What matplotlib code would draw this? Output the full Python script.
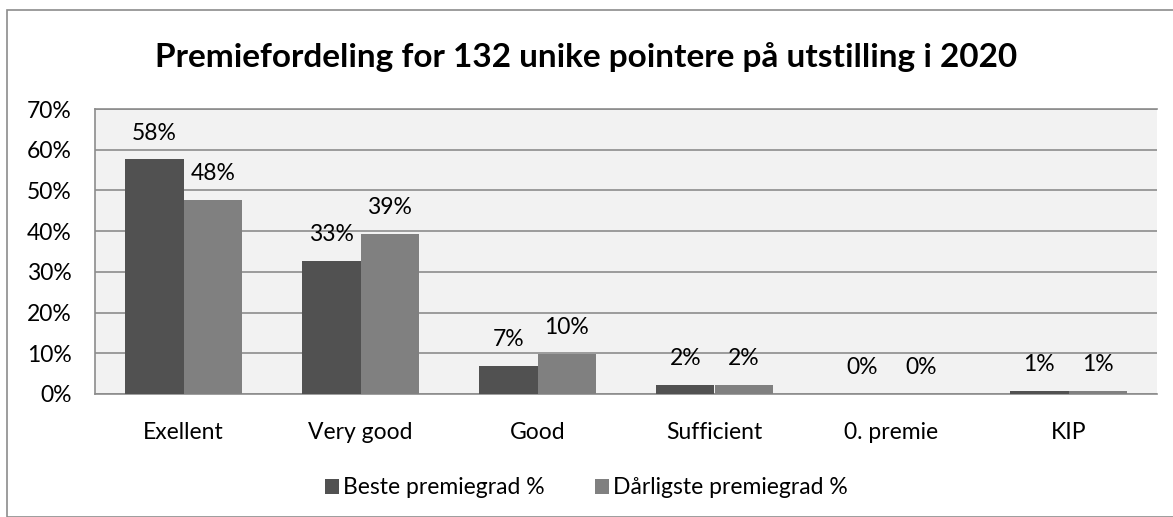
import matplotlib

matplotlib.use("Agg")
import matplotlib.pyplot as plt
import numpy as np
from matplotlib.patches import Rectangle

categories = ["Exellent", "Very good", "Good", "Sufficient", "0. premie", "KIP"]
beste = [57.6, 32.6, 6.8, 2.3, 0.0, 0.76]
darligste = [47.7, 39.4, 9.8, 2.3, 0.0, 0.76]
series_names = ["Beste premiegrad %", "Dårligste premiegrad %"]
yticks = [0, 10, 20, 30, 40, 50, 60, 70]

plt.rcParams["font.family"] = ["Lato", "DejaVu Sans"]
FS = 16.5

W, H = 1173, 517
fig = plt.figure(figsize=(W / 100, H / 100), dpi=100)
fig.patch.set_facecolor("white")

# outer chart frame
fig.patches.append(Rectangle((7 / W, 0), 1.2, (H - 10) / H, transform=fig.transFigure,
                             fill=False, edgecolor="#8c8c8c", linewidth=1.2))

left, right, top, bottom = 95, 1157, 109, 394
ax = fig.add_axes([left / W, 1 - bottom / H, (right - left) / W, (bottom - top) / H])
ax.set_facecolor("#f2f2f2")

x = np.arange(len(categories))
w = 0.33
b1 = ax.bar(x - w / 2, beste, width=w, color="#515151", label=series_names[0], zorder=3)
b2 = ax.bar(x + w / 2, darligste, width=w, color="#808080", label=series_names[1], zorder=3)

for bars, vals in ((b1, beste), (b2, darligste)):
    for rect, v in zip(bars, vals):
        ax.annotate(f"{v:.0f}%", (rect.get_x() + rect.get_width() / 2, rect.get_height()),
                    xytext=(0, 19), textcoords="offset points", ha="center", va="center",
                    fontsize=FS, color="black")

ax.set_xlim(-0.5, len(categories) - 0.5)
ax.set_ylim(0, 70)
ax.set_yticks(yticks)
ax.set_yticklabels([f"{t}%" for t in yticks], fontsize=FS)
ax.set_xticks(x)
ax.set_xticklabels(categories, fontsize=FS)
ax.tick_params(axis="x", length=0, pad=20)
ax.tick_params(axis="y", length=0, pad=17)
ax.grid(axis="y", color="#8c8c8c", linewidth=1.2, zorder=1)
for s in ax.spines.values():
    s.set_color("#8c8c8c")
    s.set_linewidth(1.2)
ax.spines["right"].set_visible(False)

fig.text(0.5, 1 - 57 / H, "Premiefordeling for 132 unike pointere på utstilling i 2020",
         ha="center", va="center", fontsize=24, fontweight="bold")

fig.legend(handles=[b1, b2], loc="center", bbox_to_anchor=(0.5, 1 - 488 / H), ncol=2,
           frameon=False, fontsize=FS, handlelength=0.6, handleheight=0.6,
           handletextpad=0.2, columnspacing=2.2)

fig.savefig("out.png", dpi=100)
